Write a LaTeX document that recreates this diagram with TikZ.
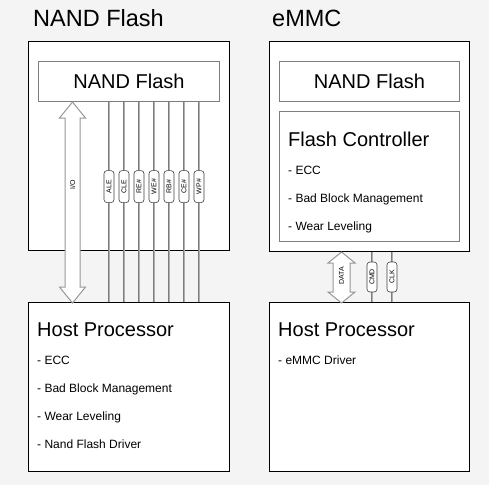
\documentclass[tikz,border=0pt]{standalone}
\usepackage{fontspec}
\setmainfont{Liberation Sans}

\definecolor{bggray}{RGB}{244,244,244}
\definecolor{boxgray}{RGB}{125,125,125}
\definecolor{wiregray}{RGB}{125,125,125}
\definecolor{wirelight}{RGB}{175,175,175}

\tikzset{
 outerbox/.style = {draw = black, fill = white, line width = 1pt, anchor = north west, inner sep = 0pt},
 innerbox/.style = {draw = boxgray, fill = white, line width = 1pt, anchor = north west, inner sep = 0pt},
 heading/.style = {anchor = base west, inner sep = 0pt, font = \fontsize{23.5}{26}\selectfont},
 boxtitle/.style = {anchor = base west, inner sep = 0pt, font = \fontsize{20}{24}\selectfont},
 item/.style = {anchor = base west, inner sep = 0pt, font = \fontsize{12}{14}\selectfont},
 sigline/.style = {draw = wiregray, double = wirelight, double distance = 1pt, line width = .8pt},
 sigtag/.style = {draw = black!75, fill = white, line width = .6pt, rounded corners = 3pt, rotate = 90, minimum width = 32pt, minimum height = 10pt, inner sep = 1pt, font = \fontsize{7}{8}\selectfont},
 bigarrow/.style = {draw = wiregray!80, fill = white, line width = 1pt, line join = miter},
 arrowtext/.style = {rotate = 90, inner sep = 0pt, font = \fontsize{7}{8}\selectfont}
}

\begin{document}
\begin{tikzpicture}[x = 1pt, y = -1pt]
\fill[bggray] (0,0) rectangle (489,485);
\useasboundingbox (0,0) rectangle (489,485);

\node[heading] (titleL) at (33,26) {NAND Flash};
\node[heading] (titleR) at (272,26) {eMMC};

\node[outerbox, minimum width = 201pt, minimum height = 209pt] (chipL) at (28,41) {};
\node[innerbox, minimum width = 181pt, minimum height = 40pt, font = \fontsize{20}{24}\selectfont] (nandL) at (38,61) {NAND Flash};
\node[outerbox, minimum width = 201pt, minimum height = 169pt] (hostL) at (28,302) {};

\node[outerbox, minimum width = 200pt, minimum height = 210pt] (emmc) at (269,41) {};
\node[innerbox, minimum width = 180pt, minimum height = 40pt, font = \fontsize{20}{24}\selectfont] (nandR) at (279,61) {NAND Flash};
\node[innerbox, minimum width = 180pt, minimum height = 130pt] (ctrl) at (279,111) {};
\node[outerbox, minimum width = 200pt, minimum height = 169pt] (hostR) at (269,302) {};

\node[boxtitle] (ctrltitle) at (288,146) {Flash Controller};
\node[item] (ctrlA) at (288,174) {- ECC};
\node[item] (ctrlB) at (288,202) {- Bad Block Management};
\node[item] (ctrlC) at (288,230) {- Wear Leveling};

\node[boxtitle] (hosttitleL) at (37,336) {Host Processor};
\node[item] (hostA) at (37,364) {- ECC};
\node[item] (hostB) at (37,392) {- Bad Block Management};
\node[item] (hostC) at (37,420) {- Wear Leveling};
\node[item] (hostD) at (37,448) {- Nand Flash Driver};

\node[boxtitle] (hosttitleR) at (278,336) {Host Processor};
\node[item] (hostE) at (278,364) {- eMMC Driver};

\coordinate (io) at (72.5,0);
\draw[bigarrow] (nandL.south -| io) --++(13,16) --++(-5.5,0) --++(0,169) --++(5.5,0) --++(-13,16)
 --++(-13,-16) --++(5.5,0) --++(0,-169) --++(-5.5,0) -- cycle;
\node[arrowtext] (iolabel) at (72.5,185) {I/O};

\foreach \x/\sig in {109/ALE, 124/CLE, 139/RE\#, 154/WE\#, 169/RB\#, 184/CE\#, 199/WP\#} {
 \coordinate (s) at (\x,0);
 \draw[sigline] (nandL.south -| s) -- (hostL.north -| s) node[sigtag, pos = .423] (tag\x) {\sig};
}

\coordinate (dio) at (341.5,0);
\draw[bigarrow] (emmc.south -| dio) --++(13.5,11) --++(-5,0) --++(0,29) --++(5,0) --++(-13.5,11)
 --++(-13.5,-11) --++(5,0) --++(0,-29) --++(-5,0) -- cycle;
\node[arrowtext] (datalabel) at (341.5,276) {DATA};

\foreach \x/\sig in {372/CMD, 392/CLK} {
 \coordinate (s) at (\x,0);
 \draw[sigline] (emmc.south -| s) -- (hostR.north -| s) node[sigtag, minimum width = 30pt, midway] (tag\x) {\sig};
}
\end{tikzpicture}
\end{document}
